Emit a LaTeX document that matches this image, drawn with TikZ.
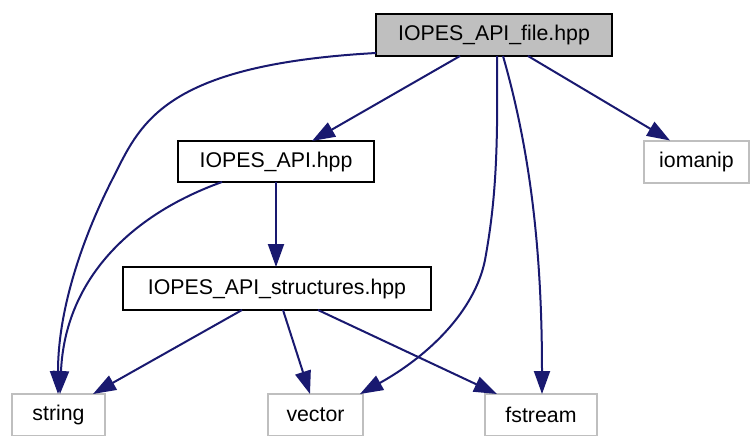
\documentclass[tikz,border=0pt]{standalone}
\usepackage{fontspec}
\setmainfont{Liberation Sans}
\usetikzlibrary{arrows.meta,calc}
\definecolor{edgeblue}{HTML}{191970}
\definecolor{leafgray}{HTML}{BFBFBF}
\definecolor{filegray}{HTML}{BFBFBF}
\begin{document}
\begin{tikzpicture}[x=1pt,y=-1pt,
  box/.style={draw=black, line width=2pt, rectangle, inner sep=0pt, outer sep=0pt,
    font=\fontsize{21.3}{25}\selectfont, text=black, minimum height=42pt},
  leaf/.style={box, draw=leafgray},
  edge/.style={draw=edgeblue, line width=2pt, -{Triangle[length=23pt,width=16pt]}}]
\path[use as bounding box, fill=white] (0,0) rectangle (750,436);

\node[box, fill=filegray, minimum width=236pt] (file) at (494,35) {IOPES\_API\_file.hpp};
\node[box, minimum width=196pt, minimum height=41pt] (api) at (276,161.5) {IOPES\_API.hpp};
\node[leaf, minimum width=105pt] (iomanip) at (696.5,161.5) {iomanip};
\node[box, minimum width=308pt, minimum height=43pt] (struct) at (277,288.5) {IOPES\_API\_structures.hpp};
\node[leaf, minimum width=93pt] (string) at (58.5,415) {string};
\node[leaf, minimum width=95pt] (vector) at (315.5,415) {vector};
\node[leaf, minimum width=112pt] (fstream) at (541,415) {fstream};

% from IOPES_API_file.hpp
\draw[edge] ($(file.south west)+(0,-3)$) .. controls (160,65) and (140,125) .. (112,180)
  .. controls (82,239) and (58,310) .. ($(string.north west)+(46,0)$);
\draw[edge] ($(file.south west)+(84,0)$) -- ($(api.north west)+(134,0)$);
\draw[edge] ($(file.south west)+(121,0)$) .. controls (498,150) and (496,200) .. (485,260)
  .. controls (475,310) and (430,355) .. ($(vector.north east)+(-3,0)$);
\draw[edge] ($(file.south west)+(127,0)$) .. controls (530,150) and (542,250) .. ($(fstream.north west)+(57,0)$);
\draw[edge] ($(file.south west)+(152,0)$) -- ($(iomanip.north west)+(26,0)$);

% from IOPES_API.hpp
\draw[edge] ($(api.south west)+(44,0)$) .. controls (130,215) and (65,280) .. ($(string.north west)+(48,0)$);
\draw[edge] (api.south) -- (api.south |- struct.north);

% from IOPES_API_structures.hpp
\draw[edge] ($(struct.south west)+(119,0)$) -- ($(string.north east)+(-12,0)$);
\draw[edge] ($(struct.south west)+(160,0)$) -- ($(vector.north west)+(42,0)$);
\draw[edge] ($(struct.south west)+(195,0)$) -- ($(fstream.north west)+(12,0)$);
\end{tikzpicture}
\end{document}
